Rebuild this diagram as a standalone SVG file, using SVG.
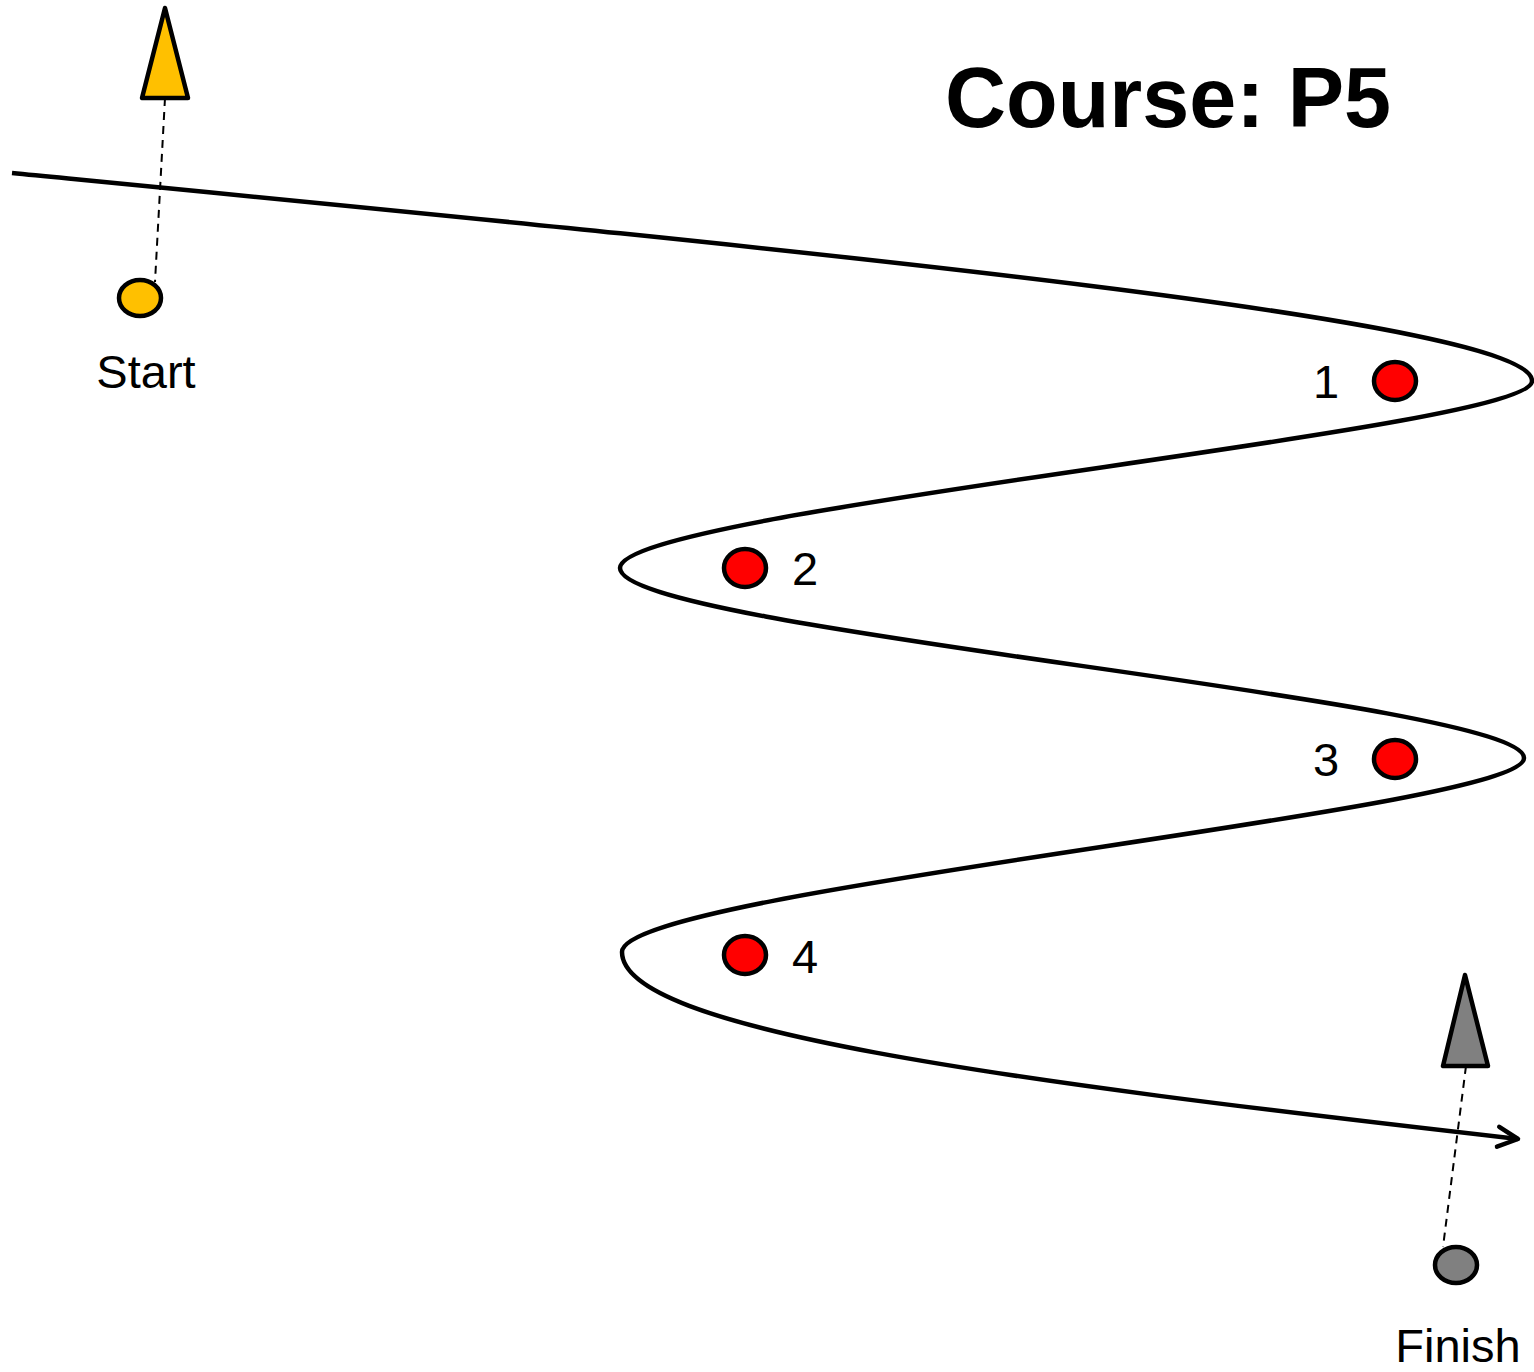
<svg xmlns="http://www.w3.org/2000/svg" width="1534" height="1372" viewBox="0 0 1534 1372">
<style>
.lbl{font-family:"Liberation Sans",Arial,sans-serif;font-size:47px;fill:#000}
.mark{stroke:#000;stroke-width:4.5;stroke-linejoin:round}
.buoy{fill:#FF0000;stroke:#000;stroke-width:4.5}
.dash{stroke:#000;stroke-width:2;stroke-dasharray:8,6;fill:none}
</style>
<defs>
<marker id="arr" markerWidth="12" markerHeight="12" refX="10" refY="6" orient="auto" markerUnits="userSpaceOnUse" viewBox="0 0 12 12" overflow="visible">
<path d="M-10,-4 L10,6 L-10,16" fill="none" stroke="#000" stroke-width="4.5" stroke-linecap="round" stroke-linejoin="round"/>
</marker>
</defs>
<rect width="1534" height="1372" fill="#fff"/>
<text x="945" y="127" font-family="Liberation Sans,Arial,sans-serif" font-weight="bold" font-size="84.5">Course: P5</text>
<g id="connectors">
<path d="M12,173 C800,250 1532,320 1532,381 C1532,430 620,510 620,568 C620,630 1524,700 1524,758 C1524,810 622,890 622,952 C622,1030 1000,1080 1518,1139" fill="none" stroke="#000" stroke-width="4.5" marker-end="url(#arr)"/>
<line class="dash" x1="165" y1="98" x2="155" y2="282"/>
<line class="dash" x1="1466" y1="1066" x2="1443" y2="1247"/>
</g>
<g id="start">
<polygon class="mark" points="165,8 142,98 188,98" fill="#FFC000"/>
<ellipse class="mark" cx="140" cy="298" rx="21" ry="18" fill="#FFC000"/>
<text class="lbl" x="146" y="388" text-anchor="middle">Start</text>
</g>
<g id="finish">
<polygon class="mark" points="1465,975 1443,1066 1488,1066" fill="#808080"/>
<ellipse class="mark" cx="1456" cy="1265" rx="21" ry="18" fill="#808080"/>
<text class="lbl" x="1458" y="1362" text-anchor="middle">Finish</text>
</g>
<g id="mark1">
<ellipse class="buoy" cx="1395" cy="381" rx="21" ry="19"/>
<text class="lbl" x="1326" y="398" text-anchor="middle">1</text>
</g>
<g id="mark2">
<ellipse class="buoy" cx="745" cy="568" rx="21" ry="19"/>
<text class="lbl" x="805" y="585" text-anchor="middle">2</text>
</g>
<g id="mark3">
<ellipse class="buoy" cx="1395" cy="759" rx="21" ry="19"/>
<text class="lbl" x="1326" y="776" text-anchor="middle">3</text>
</g>
<g id="mark4">
<ellipse class="buoy" cx="745" cy="955" rx="21" ry="19"/>
<text class="lbl" x="805" y="973" text-anchor="middle">4</text>
</g>
</svg>
